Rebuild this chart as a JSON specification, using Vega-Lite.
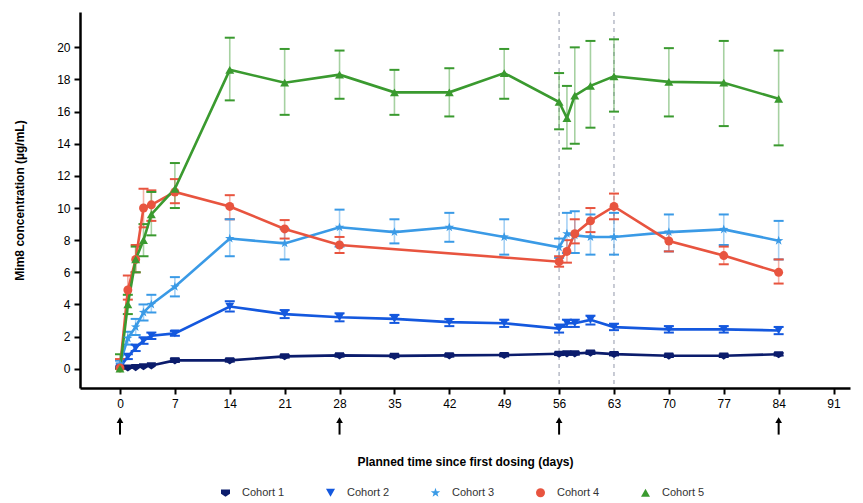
{
  "$schema": "https://vega.github.io/schema/vega-lite/v6.json",
  "width": 770,
  "height": 376,
  "autosize": {"type": "none"},
  "padding": {"left": 80, "top": 12, "right": 13, "bottom": 115},
  "background": "white",
  "config": {
    "font": "Liberation Sans",
    "view": {"stroke": null},
    "axis": {"grid": false, "domainColor": "black", "domainWidth": 2.5, "tickColor": "black", "tickWidth": 2, "tickSize": 6, "labelFontSize": 12, "labelColor": "black", "labelFont": "Liberation Sans", "titleFont": "Liberation Sans", "titleFontSize": 12, "titleFontWeight": "bold", "titleColor": "black", "labelFlush": false, "labelOverlap": false}
  },
  "datasets": {
    "pk": [
      {"cohort": "Cohort 1", "day": 0, "value": 0.05},
      {"cohort": "Cohort 1", "day": 1, "value": 0.07},
      {"cohort": "Cohort 1", "day": 2, "value": 0.1},
      {"cohort": "Cohort 1", "day": 3, "value": 0.15},
      {"cohort": "Cohort 1", "day": 4, "value": 0.2},
      {"cohort": "Cohort 1", "day": 7, "value": 0.52, "lo": 0.42, "hi": 0.62},
      {"cohort": "Cohort 1", "day": 14, "value": 0.52, "lo": 0.44, "hi": 0.6},
      {"cohort": "Cohort 1", "day": 21, "value": 0.77, "lo": 0.69, "hi": 0.85},
      {"cohort": "Cohort 1", "day": 28, "value": 0.83, "lo": 0.75, "hi": 0.91},
      {"cohort": "Cohort 1", "day": 35, "value": 0.8, "lo": 0.72, "hi": 0.88},
      {"cohort": "Cohort 1", "day": 42, "value": 0.83, "lo": 0.75, "hi": 0.91},
      {"cohort": "Cohort 1", "day": 49, "value": 0.85, "lo": 0.77, "hi": 0.93},
      {"cohort": "Cohort 1", "day": 56, "value": 0.93, "lo": 0.85, "hi": 1.01},
      {"cohort": "Cohort 1", "day": 57, "value": 0.95, "lo": 0.87, "hi": 1.03},
      {"cohort": "Cohort 1", "day": 58, "value": 0.95, "lo": 0.87, "hi": 1.03},
      {"cohort": "Cohort 1", "day": 60, "value": 1.0, "lo": 0.92, "hi": 1.08},
      {"cohort": "Cohort 1", "day": 63, "value": 0.91, "lo": 0.83, "hi": 0.99},
      {"cohort": "Cohort 1", "day": 70, "value": 0.81, "lo": 0.73, "hi": 0.89},
      {"cohort": "Cohort 1", "day": 77, "value": 0.81, "lo": 0.73, "hi": 0.89},
      {"cohort": "Cohort 1", "day": 84, "value": 0.9, "lo": 0.82, "hi": 0.98},

      {"cohort": "Cohort 2", "day": 0, "value": 0.1},
      {"cohort": "Cohort 2", "day": 1, "value": 0.75, "lo": 0.6, "hi": 0.9},
      {"cohort": "Cohort 2", "day": 2, "value": 1.3, "lo": 1.1, "hi": 1.5},
      {"cohort": "Cohort 2", "day": 3, "value": 1.75, "lo": 1.55, "hi": 1.95},
      {"cohort": "Cohort 2", "day": 4, "value": 2.05, "lo": 1.85, "hi": 2.25},
      {"cohort": "Cohort 2", "day": 7, "value": 2.2, "lo": 2.05, "hi": 2.35},
      {"cohort": "Cohort 2", "day": 14, "value": 3.87, "lo": 3.56, "hi": 4.2},
      {"cohort": "Cohort 2", "day": 21, "value": 3.4, "lo": 3.15, "hi": 3.65},
      {"cohort": "Cohort 2", "day": 28, "value": 3.2, "lo": 2.95, "hi": 3.45},
      {"cohort": "Cohort 2", "day": 35, "value": 3.1, "lo": 2.85, "hi": 3.35},
      {"cohort": "Cohort 2", "day": 42, "value": 2.9, "lo": 2.65, "hi": 3.1},
      {"cohort": "Cohort 2", "day": 49, "value": 2.83, "lo": 2.6, "hi": 3.05},
      {"cohort": "Cohort 2", "day": 56, "value": 2.5, "lo": 2.25, "hi": 2.75},
      {"cohort": "Cohort 2", "day": 57, "value": 2.83, "lo": 2.6, "hi": 3.05},
      {"cohort": "Cohort 2", "day": 58, "value": 2.83, "lo": 2.6, "hi": 3.05},
      {"cohort": "Cohort 2", "day": 60, "value": 3.04, "lo": 2.75, "hi": 3.3},
      {"cohort": "Cohort 2", "day": 63, "value": 2.59, "lo": 2.4, "hi": 2.8},
      {"cohort": "Cohort 2", "day": 70, "value": 2.45, "lo": 2.25, "hi": 2.65},
      {"cohort": "Cohort 2", "day": 77, "value": 2.45, "lo": 2.25, "hi": 2.65},
      {"cohort": "Cohort 2", "day": 84, "value": 2.38, "lo": 2.15, "hi": 2.6},

      {"cohort": "Cohort 3", "day": 0, "value": 0.3, "lo": 0.1, "hi": 0.5},
      {"cohort": "Cohort 3", "day": 1, "value": 1.9, "lo": 1.5, "hi": 2.3},
      {"cohort": "Cohort 3", "day": 2, "value": 2.6, "lo": 2.1, "hi": 3.1},
      {"cohort": "Cohort 3", "day": 3, "value": 3.5, "lo": 3.0, "hi": 4.0},
      {"cohort": "Cohort 3", "day": 4, "value": 4.0, "lo": 3.5, "hi": 4.6},
      {"cohort": "Cohort 3", "day": 7, "value": 5.1, "lo": 4.5, "hi": 5.7},
      {"cohort": "Cohort 3", "day": 14, "value": 8.1, "lo": 7.0, "hi": 9.3},
      {"cohort": "Cohort 3", "day": 21, "value": 7.8, "lo": 6.8, "hi": 8.7},
      {"cohort": "Cohort 3", "day": 28, "value": 8.8, "lo": 7.6, "hi": 9.9},
      {"cohort": "Cohort 3", "day": 35, "value": 8.5, "lo": 7.8, "hi": 9.3},
      {"cohort": "Cohort 3", "day": 42, "value": 8.8, "lo": 7.9, "hi": 9.7},
      {"cohort": "Cohort 3", "day": 49, "value": 8.2, "lo": 7.1, "hi": 9.3},
      {"cohort": "Cohort 3", "day": 56, "value": 7.55, "lo": 6.9, "hi": 8.1},
      {"cohort": "Cohort 3", "day": 57, "value": 8.4, "lo": 7.2, "hi": 9.7},
      {"cohort": "Cohort 3", "day": 58, "value": 8.3, "lo": 7.2, "hi": 9.8},
      {"cohort": "Cohort 3", "day": 60, "value": 8.2, "lo": 7.1, "hi": 9.6},
      {"cohort": "Cohort 3", "day": 63, "value": 8.2, "lo": 7.1, "hi": 9.7},
      {"cohort": "Cohort 3", "day": 70, "value": 8.5, "lo": 7.3, "hi": 9.6},
      {"cohort": "Cohort 3", "day": 77, "value": 8.67, "lo": 7.7, "hi": 9.6},
      {"cohort": "Cohort 3", "day": 84, "value": 7.97, "lo": 6.8, "hi": 9.2},

      {"cohort": "Cohort 4", "day": 0, "value": 0.05, "lo": 0.0, "hi": 0.6},
      {"cohort": "Cohort 4", "day": 1, "value": 4.9, "lo": 4.3, "hi": 5.8},
      {"cohort": "Cohort 4", "day": 2, "value": 6.8, "lo": 6.0, "hi": 7.7},
      {"cohort": "Cohort 4", "day": 3, "value": 10.0, "lo": 8.8, "hi": 11.2},
      {"cohort": "Cohort 4", "day": 4, "value": 10.2, "lo": 9.2, "hi": 11.1},
      {"cohort": "Cohort 4", "day": 7, "value": 11.0, "lo": 10.3, "hi": 11.8},
      {"cohort": "Cohort 4", "day": 14, "value": 10.1, "lo": 9.3, "hi": 10.8},
      {"cohort": "Cohort 4", "day": 21, "value": 8.7, "lo": 8.1, "hi": 9.25},
      {"cohort": "Cohort 4", "day": 28, "value": 7.7, "lo": 7.2, "hi": 8.2},
      {"cohort": "Cohort 4", "day": 56, "value": 6.66, "lo": 6.35, "hi": 7.0},
      {"cohort": "Cohort 4", "day": 57, "value": 7.3, "lo": 6.6, "hi": 8.0},
      {"cohort": "Cohort 4", "day": 58, "value": 8.4, "lo": 7.8, "hi": 9.3},
      {"cohort": "Cohort 4", "day": 60, "value": 9.2, "lo": 8.5, "hi": 10.0},
      {"cohort": "Cohort 4", "day": 63, "value": 10.1, "lo": 9.3, "hi": 10.9},
      {"cohort": "Cohort 4", "day": 70, "value": 7.95, "lo": 7.3, "hi": 8.5},
      {"cohort": "Cohort 4", "day": 77, "value": 7.04, "lo": 6.5, "hi": 7.6},
      {"cohort": "Cohort 4", "day": 84, "value": 6.0, "lo": 5.3, "hi": 6.8},

      {"cohort": "Cohort 5", "day": 0, "value": 0.0, "lo": 0.0, "hi": 0.9},
      {"cohort": "Cohort 5", "day": 1, "value": 4.0, "lo": 3.4, "hi": 4.6},
      {"cohort": "Cohort 5", "day": 2, "value": 6.8, "lo": 6.0, "hi": 7.6},
      {"cohort": "Cohort 5", "day": 3, "value": 8.0, "lo": 7.0, "hi": 9.0},
      {"cohort": "Cohort 5", "day": 4, "value": 9.6, "lo": 8.3, "hi": 11.0},
      {"cohort": "Cohort 5", "day": 7, "value": 11.2, "lo": 10.0, "hi": 12.8},
      {"cohort": "Cohort 5", "day": 14, "value": 18.6, "lo": 16.7, "hi": 20.6},
      {"cohort": "Cohort 5", "day": 21, "value": 17.8, "lo": 15.8, "hi": 19.9},
      {"cohort": "Cohort 5", "day": 28, "value": 18.3, "lo": 16.8, "hi": 19.8},
      {"cohort": "Cohort 5", "day": 35, "value": 17.2, "lo": 15.8, "hi": 18.6},
      {"cohort": "Cohort 5", "day": 42, "value": 17.2, "lo": 15.7, "hi": 18.7},
      {"cohort": "Cohort 5", "day": 49, "value": 18.4, "lo": 16.8, "hi": 19.9},
      {"cohort": "Cohort 5", "day": 56, "value": 16.6, "lo": 14.9, "hi": 18.4},
      {"cohort": "Cohort 5", "day": 57, "value": 15.6, "lo": 13.7, "hi": 17.6},
      {"cohort": "Cohort 5", "day": 58, "value": 17.0, "lo": 14.0, "hi": 20.0},
      {"cohort": "Cohort 5", "day": 60, "value": 17.6, "lo": 15.0, "hi": 20.4},
      {"cohort": "Cohort 5", "day": 63, "value": 18.2, "lo": 16.0, "hi": 20.5},
      {"cohort": "Cohort 5", "day": 70, "value": 17.85, "lo": 15.7, "hi": 19.95},
      {"cohort": "Cohort 5", "day": 77, "value": 17.8, "lo": 15.1, "hi": 20.4},
      {"cohort": "Cohort 5", "day": 84, "value": 16.8, "lo": 13.9, "hi": 19.8}
    ],
    "doses": [{"day": 0}, {"day": 28}, {"day": 56}, {"day": 84}],
    "guides": [{"day": 56}, {"day": 63}]
  },
  "encoding": {
    "x": {
      "field": "day", "type": "quantitative",
      "scale": {"domain": [-5.1, 93.1], "nice": false, "zero": false},
      "axis": {"values": [0, 7, 14, 21, 28, 35, 42, 49, 56, 63, 70, 77, 84, 91], "title": "Planned time since first dosing (days)", "titlePadding": 47, "labelPadding": 4}
    }
  },
  "layer": [
    {
      "data": {"name": "guides"},
      "mark": {"type": "rule", "color": "#a4a9b8", "strokeWidth": 1.2, "strokeDash": [4, 4]},
      "encoding": {}
    },
    {
      "data": {"name": "pk"},
      "transform": [{"filter": "isValid(datum.lo)"}],
      "mark": {"type": "rule", "strokeWidth": 1.6, "opacity": 0.45},
      "encoding": {
        "y": {"field": "lo", "type": "quantitative", "scale": {"domain": [-1.2, 22.2], "nice": false, "zero": false}, "title": "Mim8 concentration (µg/mL)", "axis": {"values": [0, 2, 4, 6, 8, 10, 12, 14, 16, 18, 20], "titlePadding": 30, "labelPadding": 4}},
        "y2": {"field": "hi"},
        "color": {"field": "cohort", "type": "nominal"}
      }
    },
    {
      "data": {"name": "pk"},
      "transform": [{"filter": "isValid(datum.lo)"}],
      "mark": {"type": "tick", "orient": "horizontal", "size": 10, "thickness": 2, "opacity": 1},
      "encoding": {
        "y": {"field": "lo", "type": "quantitative", "title": "Mim8 concentration (µg/mL)", "axis": {"values": [0, 2, 4, 6, 8, 10, 12, 14, 16, 18, 20], "titlePadding": 30, "labelPadding": 4}},
        "color": {"field": "cohort", "type": "nominal"}
      }
    },
    {
      "data": {"name": "pk"},
      "transform": [{"filter": "isValid(datum.lo)"}],
      "mark": {"type": "tick", "orient": "horizontal", "size": 10, "thickness": 2, "opacity": 1},
      "encoding": {
        "y": {"field": "hi", "type": "quantitative", "title": "Mim8 concentration (µg/mL)", "axis": {"values": [0, 2, 4, 6, 8, 10, 12, 14, 16, 18, 20], "titlePadding": 30, "labelPadding": 4}},
        "color": {"field": "cohort", "type": "nominal"}
      }
    },
    {
      "data": {"name": "pk"},
      "mark": {"type": "line", "strokeWidth": 2.6},
      "encoding": {
        "y": {"field": "value", "type": "quantitative", "title": "Mim8 concentration (µg/mL)", "axis": {"values": [0, 2, 4, 6, 8, 10, 12, 14, 16, 18, 20], "titlePadding": 30, "labelPadding": 4}},
        "color": {"field": "cohort", "type": "nominal"}
      }
    },
    {
      "data": {"name": "pk"},
      "mark": {"type": "point", "filled": true, "opacity": 1, "size": 80},
      "encoding": {
        "y": {"field": "value", "type": "quantitative", "title": "Mim8 concentration (µg/mL)", "axis": {"values": [0, 2, 4, 6, 8, 10, 12, 14, 16, 18, 20], "titlePadding": 30, "labelPadding": 4}},
        "color": {
          "field": "cohort", "type": "nominal",
          "scale": {"domain": ["Cohort 1", "Cohort 2", "Cohort 3", "Cohort 4", "Cohort 5"], "range": ["#0b1c6c", "#1458de", "#3a9ae6", "#e8543f", "#3a9a2f"]},
          "legend": {
            "orient": "none", "legendX": 140, "legendY": 475, "direction": "horizontal", "columns": 5, "title": null,
            "symbolSize": 81, "symbolOpacity": 1, "symbolStrokeWidth": 0, "labelFontSize": 11, "labelColor": "#333333", "labelFont": "Liberation Sans", "labelOffset": 11, "columnPadding": 40,
            "encode": {
              "symbols": {
                "update": {
                  "shape": {"signal": "datum.value === 'Cohort 1' ? 'M-2.7,-0.3H2.7V0.3H-2.7Z M-1,-0.7H1V0.2L0,0.9L-1,0.2Z' : datum.value === 'Cohort 2' ? 'M-2.7,-0.3H2.7V0.3H-2.7Z M-1,-0.8H1L0,0.9Z' : datum.value === 'Cohort 3' ? 'M-2.7,-0.3H2.7V0.3H-2.7Z M0,-1L0.235,-0.324L0.951,-0.309L0.38,0.124L0.588,0.809L0,0.4L-0.588,0.809L-0.38,0.124L-0.951,-0.309L-0.235,-0.324Z' : datum.value === 'Cohort 4' ? 'M-2.7,-0.3H2.7V0.3H-2.7Z M-1,0A1,1,0,1,0,1,0A1,1,0,1,0,-1,0Z' : 'M-2.7,-0.3H2.7V0.3H-2.7Z M0,-0.9L1,0.8H-1Z'"},
                  "opacity": {"value": 1},
                  "fillOpacity": {"value": 1},
                  "strokeWidth": {"value": 0}
                }
              }
            }
          }
        },
        "shape": {
          "field": "cohort", "type": "nominal", "legend": null,
          "scale": {"domain": ["Cohort 1", "Cohort 2", "Cohort 3", "Cohort 4", "Cohort 5"], "range": ["M-1,-0.7H1V0.2L0,0.9L-1,0.2Z", "triangle-down", "M0,-1.1L0.26,-0.36L1.05,-0.34L0.42,0.14L0.65,0.89L0,0.44L-0.65,0.89L-0.42,0.14L-1.05,-0.34L-0.26,-0.36Z", "circle", "triangle-up"]}
        }
      }
    },
    {
      "data": {"name": "doses"},
      "mark": {"type": "rule", "color": "black", "strokeWidth": 2},
      "encoding": {
        "y": {"datum": -3.3, "type": "quantitative", "axis": {"values": [0, 2, 4, 6, 8, 10, 12, 14, 16, 18, 20], "titlePadding": 30, "labelPadding": 4}, "title": "Mim8 concentration (µg/mL)"},
        "y2": {"datum": -4.1}
      }
    },
    {
      "data": {"name": "doses"},
      "mark": {"type": "point", "shape": "triangle-up", "filled": true, "color": "black", "size": 45, "opacity": 1},
      "encoding": {
        "y": {"datum": -3.2, "type": "quantitative", "axis": {"values": [0, 2, 4, 6, 8, 10, 12, 14, 16, 18, 20], "titlePadding": 30, "labelPadding": 4}, "title": "Mim8 concentration (µg/mL)"}
      }
    }
  ]
}
